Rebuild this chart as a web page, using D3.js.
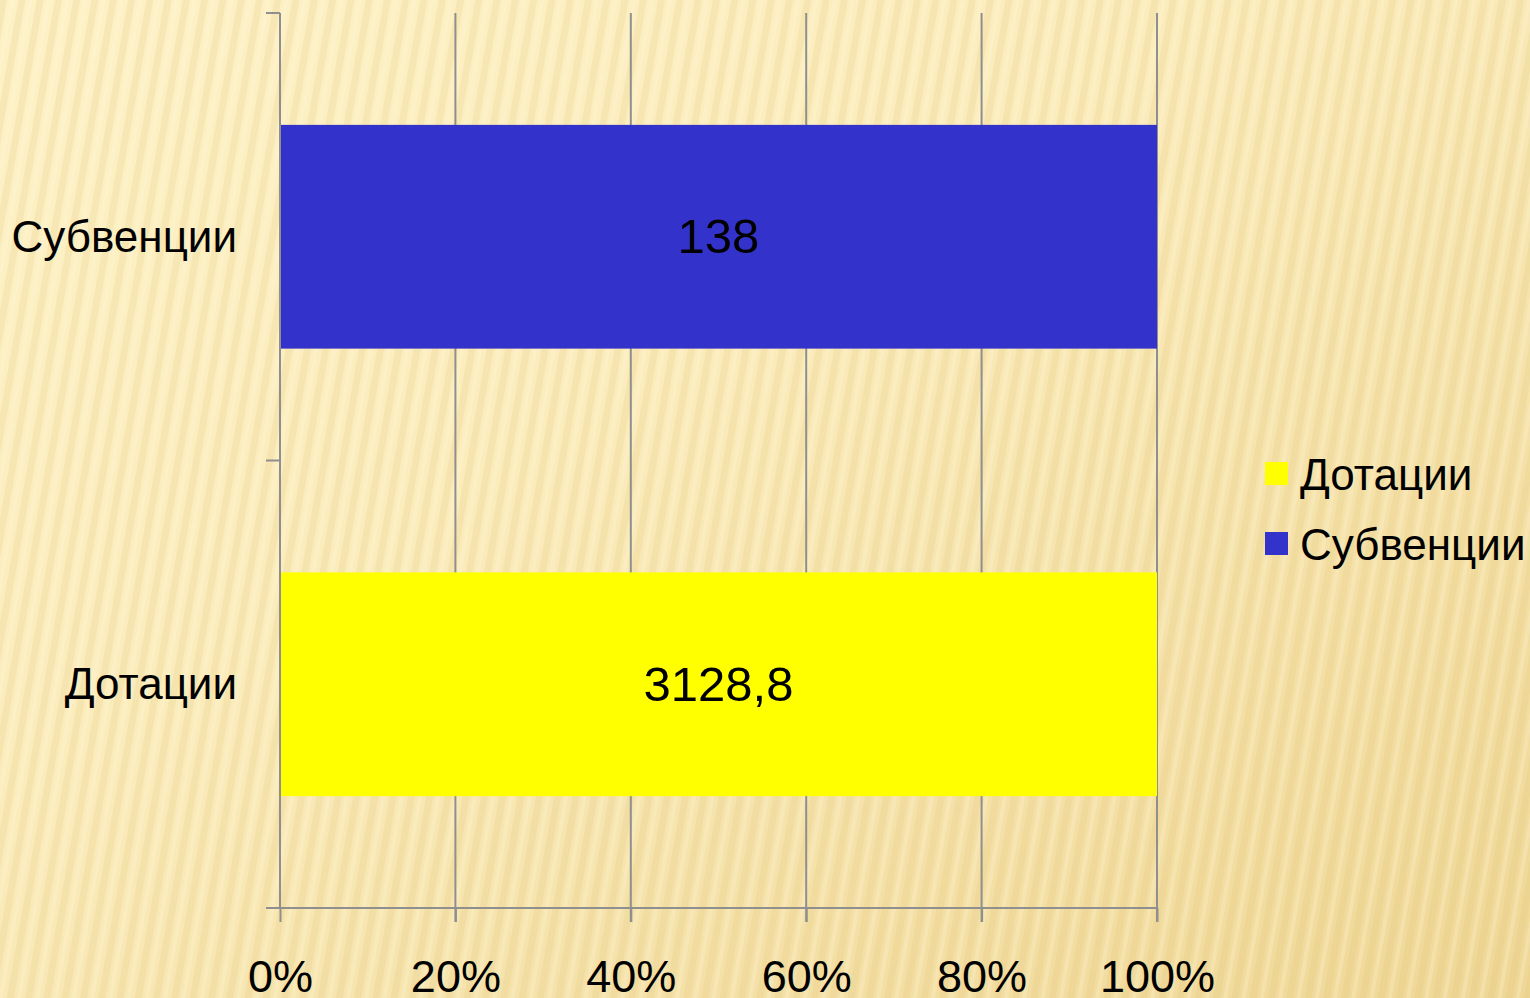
<!DOCTYPE html>
<html>
<head>
<meta charset="utf-8">
<script src="https://cdn.jsdelivr.net/npm/d3@7"></script>
<style>
  html, body { margin: 0; padding: 0; }
  body { width: 1530px; height: 998px; overflow: hidden; }
  svg { display: block; font-family: "Liberation Sans", Arial, sans-serif; }
</style>
</head>
<body>
<div id="chart"></div>
<script>
// categories bottom-to-top as in the picture
const categories = ["Дотации", "Субвенции"];
const seriesNames = ["Дотации", "Субвенции"];
const dotacii = [3128.8, 0];
const subvencii = [0, 138];
const labels = ["3128,8", "138"];
const tickLabels = ["0%", "20%", "40%", "60%", "80%", "100%"];
const colors = ["#ffff00", "#3333cc"];

const W = 1530, H = 998;
const m = {left: 280, right: 373, top: 13, bottom: 90};

const svg = d3.select("#chart").append("svg").attr("width", W).attr("height", H);
const defs = svg.append("defs");

// background: warm gradient with soft slanted stripes
const grad = defs.append("linearGradient").attr("id", "bg").attr("x1", "0").attr("y1", "0").attr("x2", "1").attr("y2", "1");
grad.append("stop").attr("offset", "0%").attr("stop-color", "#fdf1c6");
grad.append("stop").attr("offset", "40%").attr("stop-color", "#fbecbc");
grad.append("stop").attr("offset", "100%").attr("stop-color", "#efd796");
const pat = defs.append("pattern").attr("id", "stripes").attr("patternUnits", "userSpaceOnUse")
  .attr("width", 18).attr("height", 18).attr("patternTransform", "rotate(10)");
pat.append("rect").attr("width", 7).attr("height", 18).attr("fill", "#d8bd6c").attr("opacity", 0.16);
pat.append("rect").attr("x", 10).attr("width", 4).attr("height", 18).attr("fill", "#fff8dc").attr("opacity", 0.25);

svg.append("rect").attr("width", W).attr("height", H).attr("fill", "url(#bg)");
svg.append("rect").attr("width", W).attr("height", H).attr("fill", "url(#stripes)");

const iw = W - m.left - m.right, ih = H - m.top - m.bottom;
const g = svg.append("g").attr("transform", `translate(${m.left},${m.top})`);

const rows = categories.map((c, i) => ({cat: c, "Дотации": dotacii[i], "Субвенции": subvencii[i], label: labels[i]}));
const stack = d3.stack().keys(seriesNames).offset(d3.stackOffsetExpand);
const layers = stack(rows);

const x = d3.scaleLinear().domain([0, 1]).range([0, iw]);
const y = d3.scaleBand().domain(categories.slice().reverse()).range([0, ih]).paddingInner(0.5).paddingOuter(0.25);

const grid = "#8f8f8f";
// vertical gridlines
g.append("g").selectAll("line").data(x.ticks(5).slice(1)).join("line")
  .attr("x1", d => x(d)).attr("x2", d => x(d)).attr("y1", 0).attr("y2", ih + 14)
  .attr("stroke", grid).attr("stroke-width", 2);

// bars
g.append("g").selectAll("g").data(layers).join("g")
  .attr("fill", (d, i) => colors[i])
  .selectAll("rect").data(d => d.filter(p => p[1] - p[0] > 0)).join("rect")
  .attr("x", d => x(d[0])).attr("width", d => x(d[1]) - x(d[0]))
  .attr("y", d => y(d.data.cat)).attr("height", y.bandwidth());

// value labels
layers.forEach(layer => {
  g.append("g").selectAll("text").data(layer.filter(p => p[1] - p[0] > 0)).join("text")
    .attr("x", d => x((d[0] + d[1]) / 2)).attr("y", d => y(d.data.cat) + y.bandwidth() / 2)
    .attr("text-anchor", "middle").attr("dy", "0.34em")
    .attr("font-size", 49).attr("fill", "#000").text(d => d.data.label);
});

// x axis
const xAxis = g.append("g").attr("transform", `translate(0,${ih})`)
  .call(d3.axisBottom(x).ticks(5).tickSize(14).tickFormat((d, i) => tickLabels[i]));
xAxis.select(".domain").attr("stroke", grid).attr("stroke-width", 2).attr("d", `M-14,0H${iw}`);
xAxis.selectAll(".tick line").attr("stroke", grid).attr("stroke-width", 2);
xAxis.selectAll(".tick text").attr("font-size", 45).attr("fill", "#000").attr("dy", 0).attr("y", 84);

// y axis
const yBound = d3.scaleLinear().domain([0, categories.length]).range([ih, 0]);
const yAxis = g.append("g");
yAxis.append("line").attr("x1", 0).attr("x2", 0).attr("y1", 0).attr("y2", ih).attr("stroke", grid).attr("stroke-width", 2);
yAxis.selectAll(".yt").data(d3.range(categories.length + 1)).join("line").attr("class", "yt")
  .attr("x1", -14).attr("x2", 0).attr("y1", d => yBound(d)).attr("y2", d => yBound(d))
  .attr("stroke", grid).attr("stroke-width", 2);
yAxis.selectAll("text").data(categories).join("text")
  .attr("x", -43).attr("y", d => y(d) + y.bandwidth() / 2).attr("dy", "0.34em")
  .attr("text-anchor", "end").attr("font-size", 44).attr("fill", "#000").text(d => d);

// legend
const legend = svg.append("g").attr("transform", "translate(1265,462)");
const li = legend.selectAll("g").data(seriesNames).join("g").attr("transform", (d, i) => `translate(0,${i * 70})`);
li.append("rect").attr("width", 23).attr("height", 23).attr("fill", (d, i) => colors[i]);
li.append("text").attr("x", 35).attr("y", 12).attr("dy", "0.36em").attr("font-size", 44).attr("fill", "#000").text(d => d);
</script>
</body>
</html>
